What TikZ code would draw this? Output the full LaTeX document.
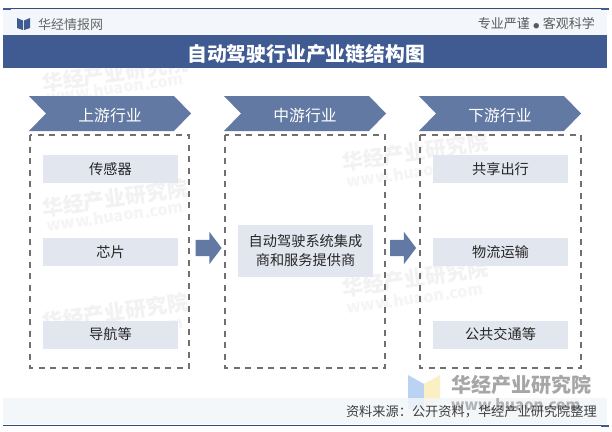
\documentclass[tikz,border=0pt]{standalone}
\usepackage{fontspec}
\setmainfont{Noto Sans CJK SC}
\usetikzlibrary{shapes.arrows}
\definecolor{bandblue}{HTML}{3F5B92}
\definecolor{headlight}{HTML}{F3F6FA}
\definecolor{chevblue}{HTML}{6279A3}
\definecolor{itemgrey}{HTML}{E2E6EF}
\definecolor{dashgrey}{HTML}{707070}
\definecolor{logoblue}{HTML}{BAD3F2}
\definecolor{logoyellow}{HTML}{FBEFC4}
\tikzset{
	item/.style = {fill = itemgrey, minimum width = 135pt, minimum height = 28pt, inner sep = 0pt, font = \fontsize{14.2pt}{17pt}\selectfont, text = black!85, align = center},
	stage/.style = {text = white, font = \fontsize{15.8pt}{18pt}\selectfont},
	panel/.style = {draw = dashgrey, line width = 1.4pt, dash pattern = on 6pt off 5.5pt},
	flow/.style = {single arrow, fill = chevblue, minimum height = 26pt, single arrow head extend = 8pt, single arrow head indent = 0pt, single arrow tip angle = 106, inner sep = 8pt},
	wmark/.style = {text = black!5, font = \fontsize{21pt}{24pt}\selectfont\bfseries, rotate = 8},
	wmarkurl/.style = {text = black!4, font = \fontsize{16pt}{18pt}\selectfont\bfseries, rotate = 8}
}
\begin{document}
\begin{tikzpicture}[x = 1pt, y = -1pt]
	\useasboundingbox (0, 0) rectangle (612, 431);
	\fill [white] (0, 0) rectangle (612, 431);
	% watermarks
	\node [wmark] (markA) at (115, 73) {华经产业研究院};
	\node [wmarkurl] (urlA) at (115, 88) {www.huaon.com};
	\node [wmark] (markB) at (415, 152) {华经产业研究院};
	\node [wmarkurl] (urlB) at (415, 172) {www.huaon.com};
	\node [wmark] (markC) at (115, 198) {华经产业研究院};
	\node [wmarkurl] (urlC) at (115, 216) {www.huaon.com};
	\node [wmark] (markD) at (115, 312) {华经产业研究院};
	\node [wmarkurl] (urlD) at (115, 332) {www.huaon.com};
	\node [wmark] (markE) at (415, 278) {华经产业研究院};
	\node [wmarkurl] (urlE) at (415, 298) {www.huaon.com};
	% header
	\fill [headlight] (3, 9) rectangle (607, 35);
	\fill [bandblue] (3, 35) rectangle (607, 68);
	\draw [bandblue!85!black, line width = 0.8pt] (3, 8.5) -- (609, 8.5);
	\fill [bandblue] (3, 7.5) rectangle (11, 9.5);
	\fill [bandblue] (601, 7.5) rectangle (609, 9.5);
	\fill [bandblue] (17, 18) -- (23, 20.5) -- (23, 30) -- (17, 28) -- cycle;
	\fill [bandblue] (30, 18) -- (24, 20.5) -- (24, 30) -- (30, 28) -- cycle;
	\node [text = black!60, font = \fontsize{13pt}{15pt}\selectfont, anchor = west, inner sep = 0pt] (site) at (38, 24.5) {华经情报网};
	\node [text = black!65, font = \fontsize{13pt}{15pt}\selectfont, anchor = east, inner sep = 0pt] (motto) at (595, 23.5) {专业严谨\hspace{3.5pt}{\fontsize{6pt}{6pt}\selectfont ●}\hspace{3.5pt}客观科学};
	\node [text = white, font = \fontsize{19.8pt}{22pt}\selectfont\bfseries] (title) at (306, 54) {自动驾驶行业产业链结构图};
	% chevrons
	\fill [chevblue] (29, 96) -- (174, 96) -- (191, 113.5) -- (174, 131) -- (29, 131) -- (46, 113.5) -- cycle;
	\fill [chevblue] (224, 96) -- (369, 96) -- (386, 113.5) -- (369, 131) -- (224, 131) -- (241, 113.5) -- cycle;
	\fill [chevblue] (419, 96) -- (564, 96) -- (581, 113.5) -- (564, 131) -- (419, 131) -- (436, 113.5) -- cycle;
	\node [stage] (up) at (110, 115.5) {上游行业};
	\node [stage] (mid) at (305, 115.5) {中游行业};
	\node [stage] (down) at (500, 115.5) {下游行业};
	% panels
	\draw [panel] (30, 135) rectangle (189, 368);
	\draw [panel] (225, 135) rectangle (385, 368);
	\draw [panel] (420, 135) rectangle (581, 368);
	% items
	\node [item] (sensor) at (110.5, 169) {传感器};
	\node [item] (chip) at (110.5, 252) {芯片};
	\node [item] (nav) at (110.5, 334.5) {导航等};
	\node [item, minimum height = 52pt, font = \fontsize{14.2pt}{19pt}\selectfont] (system) at (305.5, 251) {自动驾驶系统集成\\商和服务提供商};
	\node [item] (share) at (500.5, 169) {共享出行};
	\node [item] (freight) at (500.5, 252) {物流运输};
	\node [item] (transit) at (500.5, 334.5) {公共交通等};
	% arrows
	\node [flow] (flowA) at (205.5, 248) {};
	\node [flow] (flowB) at (400, 248) {};
	% footer
	\fill [logoblue] (408, 375) -- (424, 384) -- (424, 409) -- (408, 409) -- cycle;
	\fill [logoyellow] (440, 375) -- (424, 384) -- (424, 409) -- (440, 400) -- cycle;
	\node [text = black!35, font = \fontsize{20pt}{22pt}\selectfont\bfseries, anchor = west, inner sep = 0pt] (brand) at (451, 385) {华经产业研究院};
	\fill [headlight, opacity = 0.85] (3, 398) rectangle (607, 424);
	\node [text = black!30, font = \fontsize{15pt}{17pt}\selectfont\bfseries, anchor = west, inner sep = 0pt] (url) at (451, 405) {www.huaon.com};
	\node [text = black!75, font = \fontsize{13.2pt}{15pt}\selectfont, anchor = east, inner sep = 0pt] (source) at (597, 412) {资料来源：公开资料，华经产业研究院整理};
	\draw [bandblue!85!black, line width = 0.8pt] (3, 425.5) -- (609, 425.5);
	\fill [bandblue] (601, 424.5) rectangle (609, 426.5);
\end{tikzpicture}
\end{document}
